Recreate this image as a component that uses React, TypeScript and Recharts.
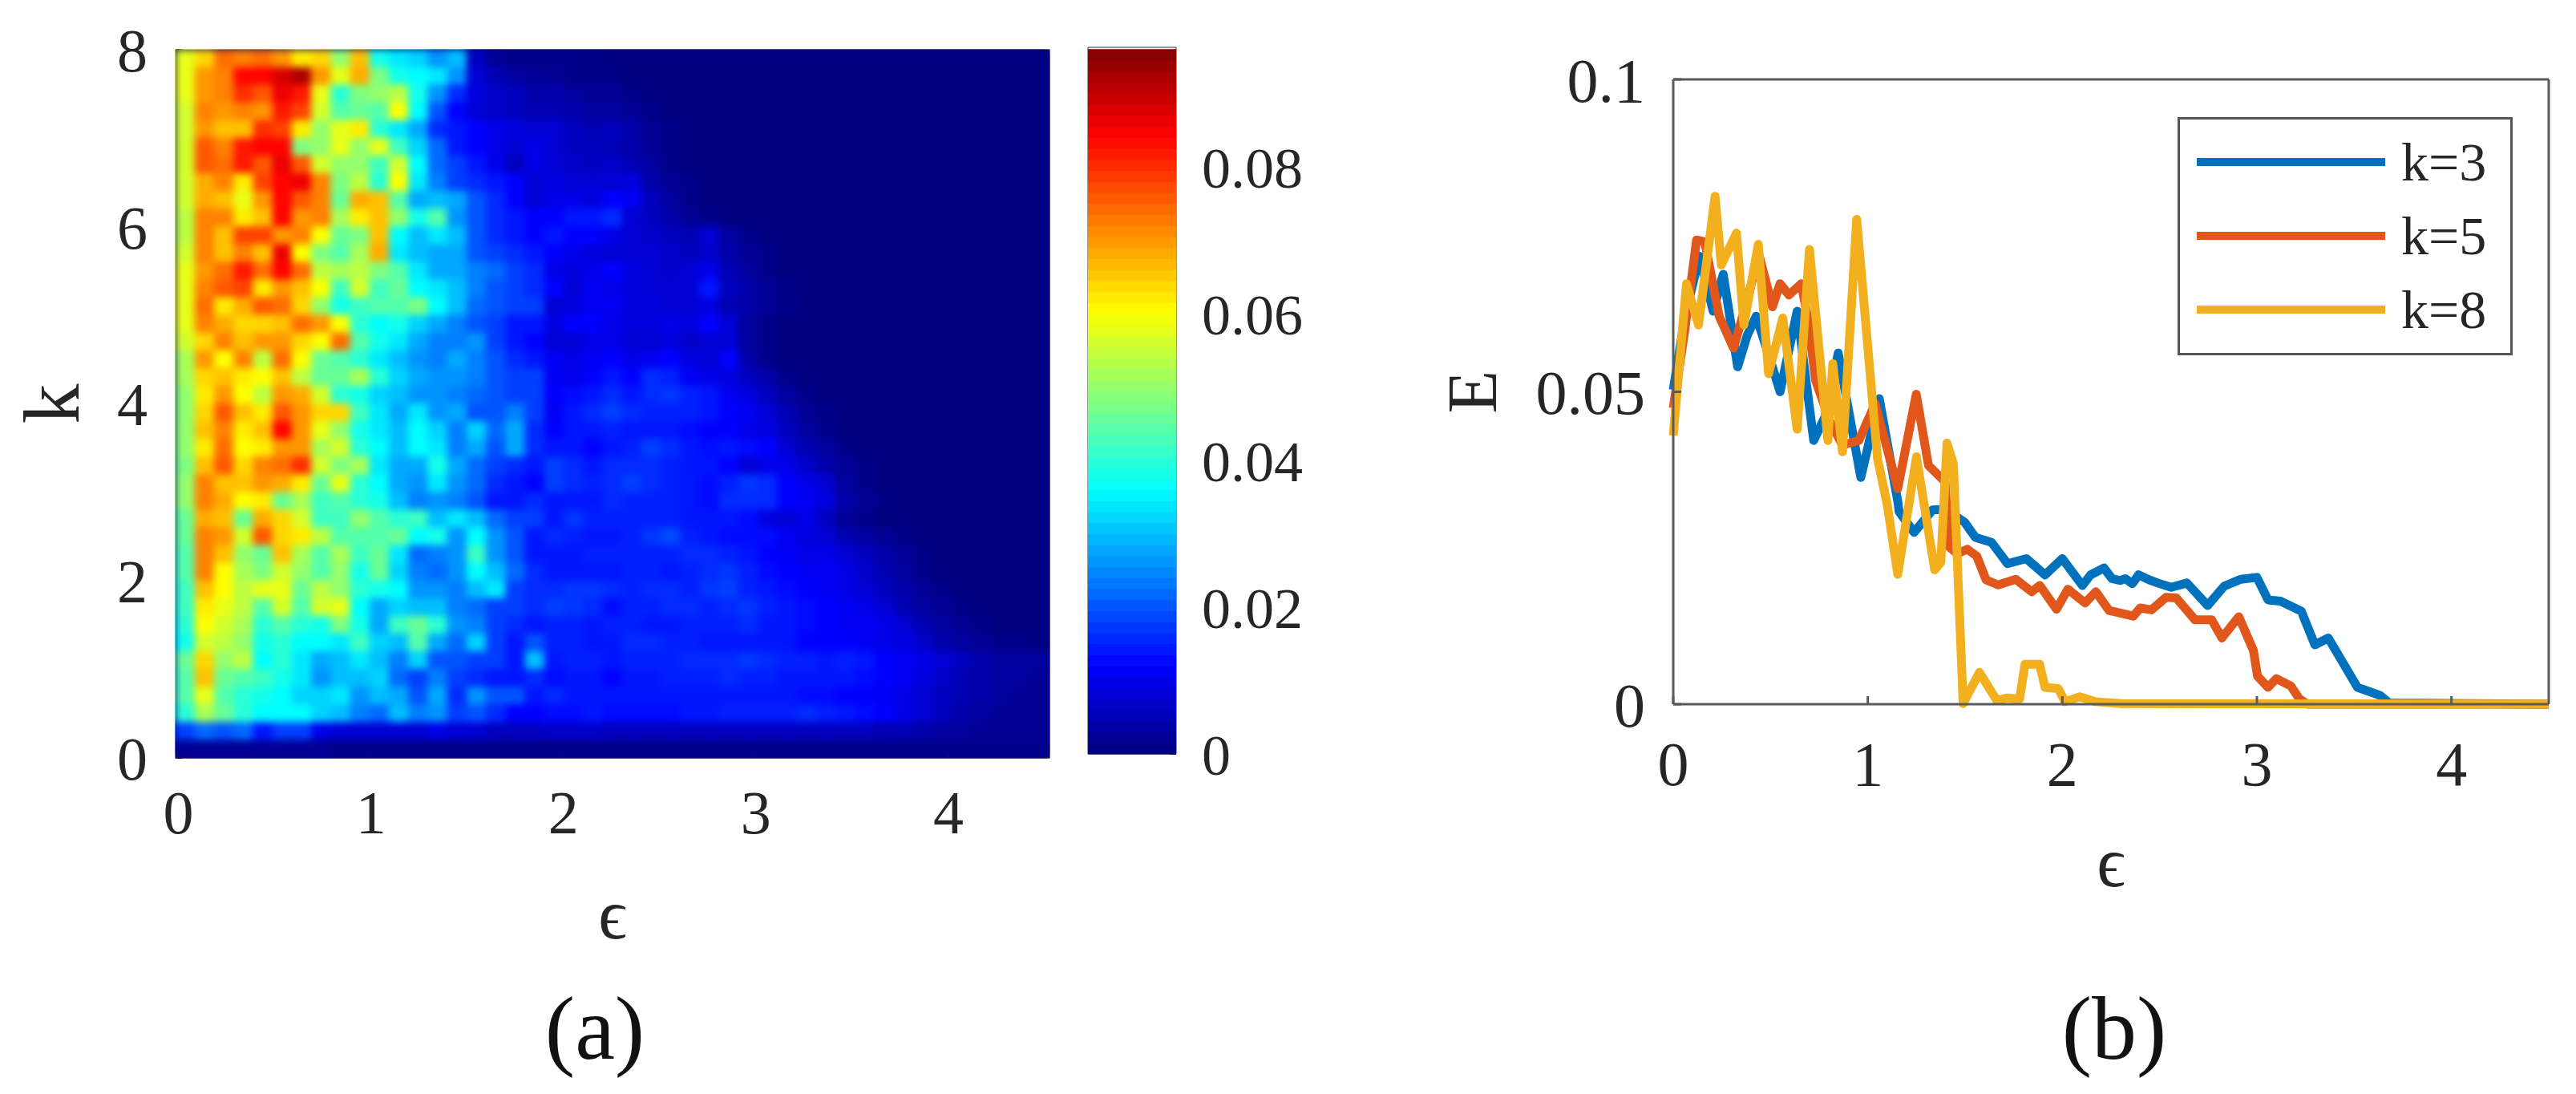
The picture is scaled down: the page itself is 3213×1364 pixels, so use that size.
import React from 'react';
import {
  ScatterChart, Scatter, LineChart, Line, XAxis, YAxis, Legend, ReferenceArea,
} from 'recharts';

const SERIF = '"Liberation Serif", "DejaVu Serif", serif';
const TEXT = '#262626';

// heat map values in units of 0.001, one row per k band from the top (k=8) down,
// one entry per epsilon column; columns left out at the end of a row are empty (0)
const heatRows: number[][] = [
  [58,64,74,72,74,70,62,64,50,66,38,34,32,26,30,6,2,1,1,1,1,1],
  [58,70,72,84,84,88,92,70,58,68,48,38,36,34,26,8,5,3,2,2,1,1,1],
  [58,70,72,80,76,86,82,58,40,48,50,54,38,26,16,9,7,6,4,4,3,2,2,1],
  [56,72,70,72,70,82,78,56,44,46,44,60,36,20,12,8,7,6,5,5,4,3,3,2,1],
  [56,70,66,66,80,78,62,50,58,62,40,34,28,16,14,12,10,9,8,8,6,5,6,4,2,1],
  [56,76,72,82,84,84,48,50,58,50,58,42,32,22,14,12,10,8,10,8,6,6,5,4,2,1],
  [56,76,74,82,76,86,76,56,50,50,42,56,36,22,18,14,10,6,10,8,7,6,7,5,3,1],
  [56,68,72,62,78,84,86,72,48,54,40,60,34,24,18,16,14,12,8,9,8,8,8,9,4,2,1],
  [56,68,66,58,70,84,76,72,46,68,66,44,28,30,28,20,16,12,8,10,10,9,12,11,6,3,1],
  [54,72,72,62,66,84,70,72,52,62,66,50,38,44,26,20,16,14,12,12,14,14,16,8,6,4,2,1],
  [54,72,66,78,78,70,72,60,46,48,66,36,30,34,30,20,16,14,12,14,12,12,10,8,7,6,5,8,3,1],
  [56,72,66,72,66,86,60,48,44,52,68,34,30,28,28,20,18,16,14,12,10,9,8,8,8,7,6,7,4,2,1],
  [58,70,74,82,74,84,74,54,52,54,48,44,34,28,28,24,22,18,16,10,9,10,12,9,8,7,8,10,5,3,1],
  [58,72,76,78,62,70,66,60,42,56,42,46,36,34,30,24,20,18,16,12,8,11,10,9,8,8,8,14,6,4,2,1],
  [58,74,62,68,76,74,64,50,38,42,44,44,48,36,30,22,20,18,18,8,9,11,11,9,9,8,8,9,5,4,2,1],
  [58,72,68,64,64,66,74,70,60,40,36,38,32,28,24,20,18,14,14,9,12,12,10,9,9,10,9,12,8,3,1],
  [56,64,72,66,70,70,64,60,74,44,38,34,28,24,24,26,18,14,12,8,8,10,10,8,8,9,7,8,8,3,1],
  [52,70,60,72,54,74,60,46,44,40,34,30,26,24,28,24,20,16,14,11,10,11,12,10,11,12,9,8,12,4,1],
  [52,64,66,62,60,66,54,46,46,52,40,32,28,26,26,24,20,18,18,11,10,12,14,12,16,15,11,10,9,6,4,1],
  [50,62,70,60,54,70,68,56,40,38,32,30,26,26,24,22,20,18,18,12,13,14,16,14,16,17,15,14,11,9,6,3,1],
  [50,64,76,66,62,76,70,64,64,42,34,28,34,26,28,20,20,24,18,11,14,16,18,16,15,15,15,14,12,11,8,5,2,1],
  [50,66,72,62,66,84,70,58,50,38,34,30,36,32,24,32,22,28,16,12,14,14,15,14,14,14,13,12,12,10,9,6,3,1],
  [50,62,74,60,62,70,70,52,56,40,36,30,36,34,24,28,20,28,16,14,14,12,14,15,18,16,14,13,14,13,12,8,5,3,1],
  [48,66,76,64,72,74,80,56,48,52,34,28,28,38,28,22,18,16,14,18,16,14,16,16,16,15,14,14,12,8,10,10,7,4,2,1],
  [50,72,66,66,70,68,62,46,58,40,36,28,26,34,26,22,16,14,12,18,16,15,16,18,16,15,14,13,15,17,16,12,10,8,3,1],
  [50,72,68,60,62,46,52,42,44,40,38,30,24,26,24,20,14,14,16,14,14,14,16,15,15,15,14,13,16,16,16,12,11,9,4,2,1],
  [46,68,66,46,68,64,56,42,42,50,44,40,42,30,34,30,22,18,18,14,17,15,15,15,15,15,14,14,14,13,9,8,10,6,2,1],
  [46,72,70,56,76,64,62,54,44,44,44,46,36,38,26,36,26,20,14,16,15,14,14,15,17,19,15,14,13,13,13,11,9,8,5,3,2,1],
  [44,72,66,50,46,66,52,44,52,42,46,34,22,24,26,42,26,20,14,14,14,15,15,15,15,15,16,16,15,14,12,11,10,10,8,6,4,2,1],
  [44,72,60,52,48,56,50,44,50,38,46,32,24,22,26,36,30,22,16,14,14,14,14,15,15,14,15,16,17,15,13,12,11,11,10,7,5,3,1],
  [42,66,60,54,58,58,46,54,50,40,38,36,26,26,24,30,34,18,16,16,17,17,16,15,16,16,15,17,18,15,14,13,12,11,10,8,6,4,2,1],
  [42,62,58,54,44,56,44,56,58,36,28,32,30,30,24,22,18,18,16,18,17,16,13,15,15,16,16,15,16,17,15,14,13,12,11,10,8,5,3,2,1],
  [40,60,56,52,40,44,40,38,48,38,28,42,46,40,26,24,18,16,14,15,15,14,15,15,14,14,15,15,15,16,14,14,13,12,11,11,10,8,5,3,2,1],
  [38,56,54,50,38,40,36,36,34,42,32,30,44,28,22,32,18,14,20,15,15,14,14,16,16,15,15,14,14,14,14,14,12,12,12,11,10,9,7,4,3,2,1,1],
  [46,64,50,54,36,40,34,28,30,34,30,24,32,20,20,18,18,14,30,14,15,15,14,15,15,15,16,16,16,17,16,15,15,14,15,14,12,11,10,8,6,4,3,3,3],
  [44,66,46,44,42,38,34,26,30,30,32,22,18,24,18,16,14,14,16,13,14,14,12,14,14,15,15,15,16,15,15,14,14,14,14,13,12,11,9,7,5,4,3,3,2],
  [44,58,44,40,38,36,32,32,34,26,30,28,20,28,16,26,20,20,14,16,14,14,14,14,14,14,14,14,14,14,14,14,13,13,12,12,11,10,8,6,5,4,3,2,2],
  [40,52,46,40,36,36,36,32,30,24,22,30,24,26,18,20,16,12,12,13,13,14,13,13,13,13,14,14,15,15,15,15,16,15,14,13,12,10,8,6,4,3,2,2,2],
  [18,22,20,22,14,18,18,10,8,8,8,8,8,10,8,8,6,6,6,7,7,7,6,6,6,6,6,6,6,6,6,6,6,6,6,6,5,5,4,3,3,2,2,2,2],
  [2,2,2,2,2,2,2,2,1,1,1,1,1,1,1,1,1,1,1,1,1,1,1,1,1,1,1,1,1,1,1,1,1,1,1,1,1,1,1,1,1,1,1,1,1],
];

const colorbarLevels = [
  0.75, 2.25, 3.75, 5.25, 6.75, 8.25, 9.75, 11.25, 12.75, 14.25, 15.75, 17.25, 18.75, 20.25, 21.75, 23.25,
  24.75, 26.25, 27.75, 29.25, 30.75, 32.25, 33.75, 35.25, 36.75, 38.25, 39.75, 41.25, 42.75, 44.25, 45.75, 47.25,
  48.75, 50.25, 51.75, 53.25, 54.75, 56.25, 57.75, 59.25, 60.75, 62.25, 63.75, 65.25, 66.75, 68.25, 69.75, 71.25,
  72.75, 74.25, 75.75, 77.25, 78.75, 80.25, 81.75, 83.25, 84.75, 86.25, 87.75, 89.25, 90.75, 92.25, 93.75, 95.25,
];

const epsTicks = [0, 1, 2, 3, 4];
const kTicks = [0, 2, 4, 6, 8];
const colorbarTicks = [0, 0.02, 0.04, 0.06, 0.08];
const energyTicks = [0, 0.05, 0.1];

const k3Eps = [0, 0.06, 0.135, 0.205, 0.257, 0.331, 0.38, 0.426, 0.49, 0.549, 0.637, 0.722, 0.78, 0.848, 0.964, 1.059, 1.154, 1.161, 1.238, 1.333, 1.4, 1.498, 1.553, 1.636, 1.718, 1.815, 1.911, 2.0, 2.103, 2.145, 2.214, 2.255, 2.297, 2.324, 2.36, 2.392, 2.447, 2.49, 2.56, 2.64, 2.747, 2.832, 2.918, 3.0, 3.057, 3.121, 3.228, 3.298, 3.367, 3.517, 3.634, 3.68, 4.5];
const k3Energy = [0.0503, 0.062, 0.0717, 0.0629, 0.0688, 0.054, 0.059, 0.0621, 0.056, 0.05, 0.0629, 0.0422, 0.046, 0.0562, 0.0363, 0.0489, 0.0325, 0.0308, 0.0275, 0.0311, 0.0312, 0.0291, 0.0267, 0.0259, 0.0225, 0.0233, 0.0207, 0.0233, 0.019, 0.0207, 0.0218, 0.0201, 0.0198, 0.0201, 0.0193, 0.0207, 0.0199, 0.0194, 0.0187, 0.0194, 0.0158, 0.0189, 0.02, 0.0203, 0.0167, 0.0165, 0.0149, 0.0095, 0.0106, 0.0027, 0.0014, 0.0002, 0];

const k5Eps = [0, 0.06, 0.12, 0.162, 0.236, 0.31, 0.384, 0.44, 0.51, 0.549, 0.595, 0.658, 0.69, 0.732, 0.806, 0.869, 0.954, 1.038, 1.154, 1.249, 1.312, 1.397, 1.418, 1.46, 1.512, 1.56, 1.608, 1.67, 1.76, 1.842, 1.884, 1.97, 2.028, 2.117, 2.172, 2.24, 2.365, 2.4, 2.458, 2.532, 2.586, 2.682, 2.768, 2.82, 2.907, 2.982, 3.003, 3.057, 3.1, 3.175, 3.217, 3.26, 4.5];
const k5Energy = [0.0474, 0.06, 0.0743, 0.074, 0.0621, 0.057, 0.0651, 0.072, 0.0636, 0.0673, 0.0655, 0.0673, 0.062, 0.0518, 0.0452, 0.0415, 0.0422, 0.0481, 0.0345, 0.0496, 0.0382, 0.0356, 0.0252, 0.0241, 0.0248, 0.0237, 0.0199, 0.0191, 0.02, 0.018, 0.019, 0.0152, 0.0184, 0.0162, 0.018, 0.015, 0.0141, 0.0154, 0.0151, 0.0171, 0.017, 0.0135, 0.0135, 0.0106, 0.014, 0.0086, 0.0045, 0.0027, 0.0041, 0.0029, 0.0009, 0, 0];

const k8Eps = [0, 0.068, 0.13, 0.215, 0.247, 0.325, 0.363, 0.437, 0.49, 0.563, 0.637, 0.7, 0.795, 0.82, 0.87, 0.943, 1.05, 1.1, 1.154, 1.25, 1.344, 1.375, 1.407, 1.44, 1.49, 1.574, 1.663, 1.718, 1.78, 1.808, 1.883, 1.911, 1.979, 2.014, 2.09, 2.172, 2.3, 4.5];
const k8Energy = [0.043, 0.0673, 0.0607, 0.0813, 0.0703, 0.0754, 0.0607, 0.0736, 0.0529, 0.0618, 0.044, 0.0728, 0.0422, 0.0545, 0.0404, 0.0776, 0.0393, 0.0319, 0.0208, 0.0396, 0.0215, 0.0227, 0.0418, 0.0385, 0.0001, 0.0051, 0.0006, 0.001, 0.0008, 0.0064, 0.0064, 0.0027, 0.0025, 0.0004, 0.0012, 0.0004, 0.0001, 0];

const PANEL_A = { left: 219, top: 62, right: 1309, bottom: 945 };
const EPS_MIN = -0.015;
const EPS_MAX = 4.525;
const COLS = 45;
const ROWS = heatRows.length;
const CELL_W = (PANEL_A.right - PANEL_A.left) / COLS;
const CELL_H = (PANEL_A.bottom - PANEL_A.top) / ROWS;

const heatCells = heatRows.flatMap((row, r) =>
  Array.from({ length: COLS }, (_, c) => ({
    eps: EPS_MIN + ((c + 0.5) * (EPS_MAX - EPS_MIN)) / COLS,
    k: 8 - ((r + 0.5) * 8) / ROWS,
    value: row[c] ?? 0,
  })),
);

const zip = (eps: number[], energy: number[]) => eps.map((e, i) => ({ eps: e, energy: energy[i] }));

const CBAR_MAX = 96.3;
const jet = (milli: number) => {
  const t = Math.min(1, Math.max(0, milli / CBAR_MAX));
  const ch = (v: number) => Math.round(255 * Math.min(1, Math.max(0, v)));
  const r = ch(Math.min(4 * t - 1.5, -4 * t + 4.5));
  const g = ch(Math.min(4 * t - 0.5, -4 * t + 3.5));
  const b = ch(Math.min(4 * t + 0.5, -4 * t + 2.5));
  return `rgb(${r},${g},${b})`;
};

const HeatCell = (props: any) => (
  <rect
    x={props.cx - CELL_W / 2 - 0.5}
    y={props.cy - CELL_H / 2 - 0.5}
    width={CELL_W + 1}
    height={CELL_H + 1}
    fill={jet(props.payload.value)}
  />
);

const CBAR_W = 110;
const CBAR_H = 881;
const ColorCell = (props: any) => {
  const h = (1.5 / CBAR_MAX) * CBAR_H + 1;
  return <rect x={props.cx - CBAR_W / 2} y={props.cy - h / 2} width={CBAR_W} height={h} fill={jet(props.payload.level)} />;
};

const legendNames = ['k=3', 'k=5', 'k=8'];
const seriesColors = ['#0072BD', '#E0561B', '#F2B01E'];

const LegendBox = () => (
  <div style={{ width: 418, height: 297, boxSizing: 'border-box', border: '3px solid #555', background: '#fff', fontFamily: SERIF, fontSize: 68, color: TEXT }}>
    {legendNames.map((name, i) => (
      <div key={name} style={{ position: 'absolute', left: 0, top: 10 + i * 92, height: 92, display: 'flex', alignItems: 'center' }}>
        <div style={{ marginLeft: 24, width: 235, height: 10, background: seriesColors[i] }} />
        <span style={{ marginLeft: 20 }}>{name}</span>
      </div>
    ))}
  </div>
);

const axisText = (size: number) => ({ fontFamily: SERIF, fontSize: size, fill: TEXT });

export default function App() {
  return (
    <div style={{ position: 'absolute', left: 0, top: 0, width: 3213, height: 1364, background: '#fff', overflow: 'hidden' }}>
      <style>{`.heat-cells { filter: url(#soften); }`}</style>

      <div style={{ position: 'absolute', left: 0, top: 0 }}>
        <ScatterChart width={1330} height={1200} margin={{ top: PANEL_A.top, right: 1330 - PANEL_A.right, bottom: 0, left: 0 }}>
          <defs>
            <filter id="soften" x="0" y="0" width="1" height="1" colorInterpolationFilters="sRGB">
              <feGaussianBlur stdDeviation="5" />
            </filter>
          </defs>
          <XAxis
            type="number" dataKey="eps" xAxisId="b" domain={[EPS_MIN, EPS_MAX]} ticks={epsTicks}
            height={1200 - PANEL_A.bottom} tickSize={-8} tickMargin={48} interval={0}
            stroke="#303050" tick={axisText(76)} tickLine={{ stroke: '#222', strokeWidth: 2 }}
            label={{ value: 'ϵ', position: 'insideTop', offset: 163, ...axisText(88) }}
          />
          <XAxis type="number" xAxisId="t" orientation="top" mirror domain={[EPS_MIN, EPS_MAX]} ticks={epsTicks} tick={false} tickSize={8} stroke="#303050" />
          <YAxis
            type="number" dataKey="k" yAxisId="l" domain={[0, 8]} ticks={kTicks} width={PANEL_A.left}
            tickSize={-8} tickMargin={43} interval={0} stroke="#303050" tick={axisText(76)} tickLine={{ stroke: '#222', strokeWidth: 2 }}
            label={{ value: 'k', angle: -90, position: 'insideLeft', offset: 62, textAnchor: 'middle', ...axisText(100) }}
          />
          <YAxis type="number" yAxisId="r" orientation="right" mirror domain={[0, 8]} ticks={kTicks} tick={false} tickSize={8} stroke="#303050" />
          <ReferenceArea xAxisId="b" yAxisId="l" x1={EPS_MIN} x2={EPS_MAX} y1={0} y2={8} fill="#000090" fillOpacity={1} stroke="none" />
          <Scatter className="heat-cells" data={heatCells} xAxisId="b" yAxisId="l" shape={HeatCell} isAnimationActive={false} />
        </ScatterChart>
      </div>

      <div style={{ position: 'absolute', left: 1340, top: 0 }}>
        <ScatterChart width={360} height={1000} margin={{ top: 59, right: 0, bottom: 60, left: 17 }}>
          <XAxis type="number" dataKey="x" xAxisId="b" mirror domain={[0, 1]} ticks={[]} tick={false} tickLine={false} stroke="#303030" />
          <XAxis type="number" xAxisId="t" orientation="top" mirror domain={[0, 1]} ticks={[]} tick={false} tickLine={false} stroke="#303030" />
          <YAxis
            type="number" dataKey="v" yAxisId="r" orientation="right" domain={[0, CBAR_MAX / 1000]} ticks={colorbarTicks}
            width={360 - 17 - CBAR_W} tickSize={-8} tickMargin={40} interval={0} stroke="#303030" tick={axisText(72)}
            tickLine={{ stroke: '#222', strokeWidth: 2 }} tickFormatter={(v: number) => (v === 0 ? '0' : v.toFixed(2))}
          />
          <YAxis type="number" yAxisId="l" mirror domain={[0, CBAR_MAX / 1000]} ticks={[]} tick={false} tickLine={false} stroke="#303030" />
          <Scatter
            data={colorbarLevels.map((level) => ({ x: 0.5, v: level / 1000, level }))}
            xAxisId="b" yAxisId="r" shape={ColorCell} isAnimationActive={false}
          />
        </ScatterChart>
      </div>

      <div style={{ position: 'absolute', left: 1700, top: 0 }}>
        <LineChart width={1513} height={1200} margin={{ top: 99, right: 34, bottom: 0, left: 0 }}>
          <XAxis
            type="number" dataKey="eps" xAxisId="b" domain={[0, 4.5]} ticks={epsTicks} height={322}
            tickSize={-10} tickMargin={56} interval={0} stroke="#5a5a5a" strokeWidth={3} tick={axisText(78)}
            tickLine={{ stroke: '#5a5a5a', strokeWidth: 3 }}
            label={{ value: 'ϵ', position: 'insideTop', offset: 165, ...axisText(88) }}
          />
          <XAxis type="number" xAxisId="t" orientation="top" mirror domain={[0, 4.5]} ticks={epsTicks} tick={false} tickSize={10} stroke="#5a5a5a" strokeWidth={3} tickLine={{ stroke: '#5a5a5a', strokeWidth: 3 }} />
          <YAxis
            type="number" yAxisId="l" domain={[0, 0.1]} ticks={energyTicks} width={387} tickSize={-10} tickMargin={45} interval={0}
            stroke="#5a5a5a" strokeWidth={3} tick={axisText(78)} tickLine={{ stroke: '#5a5a5a', strokeWidth: 3 }}
            tickFormatter={(v: number) => String(v)}
            label={{ value: 'E', angle: -90, position: 'insideLeft', offset: 135, textAnchor: 'middle', ...axisText(88) }}
          />
          <YAxis type="number" yAxisId="r" orientation="right" mirror domain={[0, 0.1]} ticks={energyTicks} tick={false} tickSize={10} stroke="#5a5a5a" strokeWidth={3} tickLine={{ stroke: '#5a5a5a', strokeWidth: 3 }} />
          <Line data={zip(k3Eps, k3Energy)} xAxisId="b" yAxisId="l" dataKey="energy" name="k=3" stroke={seriesColors[0]} strokeWidth={11} strokeLinejoin="round" dot={false} isAnimationActive={false} />
          <Line data={zip(k5Eps, k5Energy)} xAxisId="b" yAxisId="l" dataKey="energy" name="k=5" stroke={seriesColors[1]} strokeWidth={11} strokeLinejoin="round" dot={false} isAnimationActive={false} />
          <Line data={zip(k8Eps, k8Energy)} xAxisId="b" yAxisId="l" dataKey="energy" name="k=8" stroke={seriesColors[2]} strokeWidth={11} strokeLinejoin="round" dot={false} isAnimationActive={false} />
          <Legend
            layout="horizontal" verticalAlign="middle" align="center" content={<LegendBox />}
            wrapperStyle={{ left: 2716 - 1700, top: 146, width: 418, height: 297 }}
          />
        </LineChart>
      </div>

      <div style={{ position: 'absolute', left: 642, top: 1218, width: 200, textAlign: 'center', fontFamily: SERIF, fontSize: 112, color: '#111' }}>(a)</div>
      <div style={{ position: 'absolute', left: 2537, top: 1218, width: 200, textAlign: 'center', fontFamily: SERIF, fontSize: 112, color: '#111' }}>(b)</div>
    </div>
  );
}
